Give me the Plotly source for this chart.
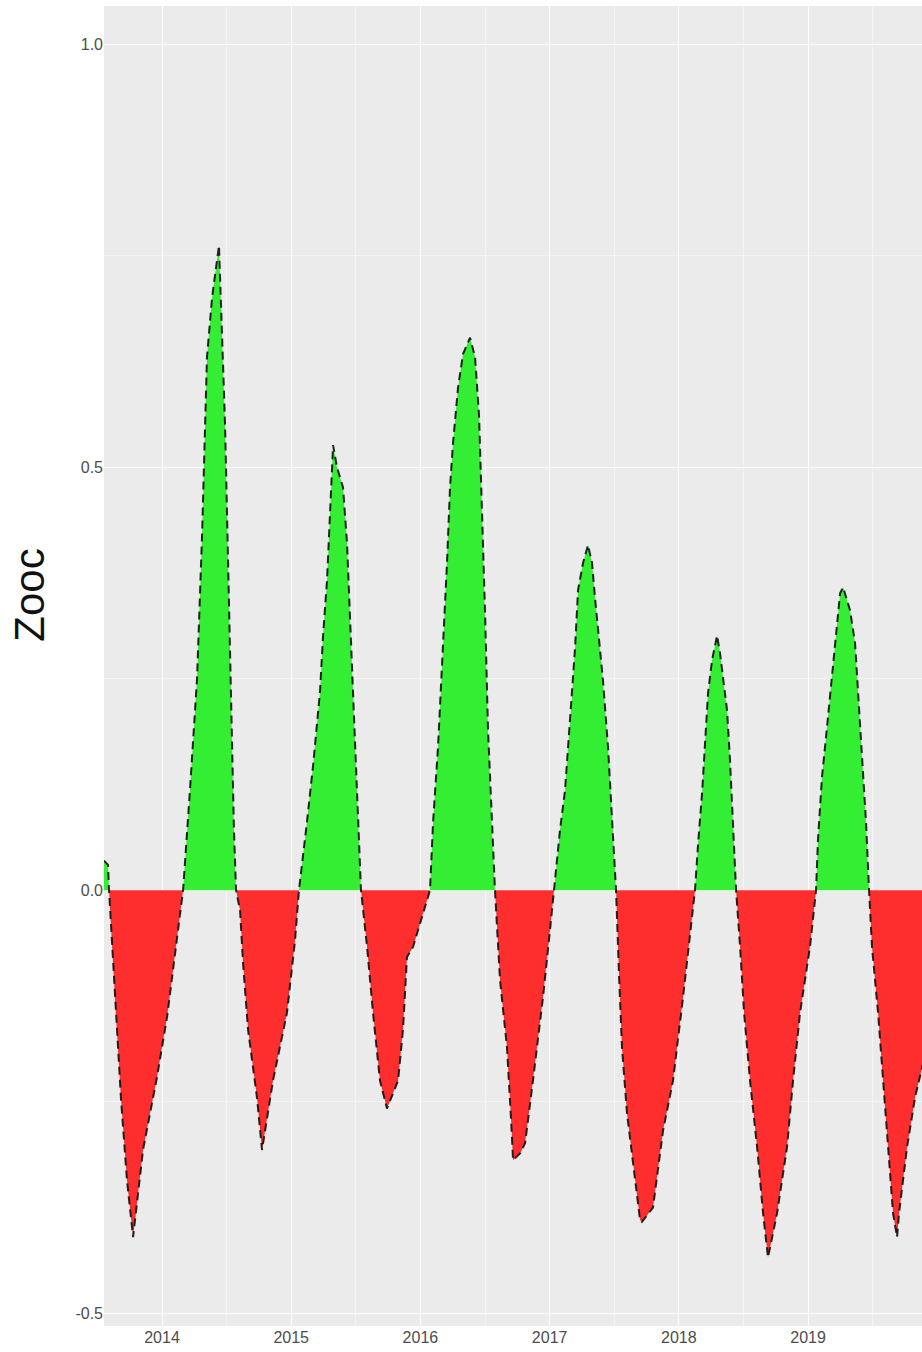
import plotly.graph_objects as go

# time in decimal years, Zooc anomaly values
years = [
    2013.551, 2013.582, 2013.590, 2013.636, 2013.683, 2013.729, 2013.776, 2013.853, 2013.961, 2014.039, 2014.124, 2014.163,
    2014.217, 2014.271, 2014.310, 2014.348, 2014.387, 2014.441, 2014.488, 2014.526, 2014.557, 2014.573,
    2014.604, 2014.627, 2014.666, 2014.735, 2014.774, 2014.859, 2014.967, 2015.029, 2015.060,
    2015.122, 2015.169, 2015.223, 2015.246, 2015.277, 2015.300, 2015.324, 2015.354, 2015.401, 2015.432,
    2015.455, 2015.478, 2015.502, 2015.525, 2015.540,
    2015.587, 2015.633, 2015.687, 2015.741, 2015.827, 2015.865, 2015.896, 2015.943, 2016.074,
    2016.098, 2016.136, 2016.175, 2016.206, 2016.229, 2016.252, 2016.291, 2016.330, 2016.384, 2016.423,
    2016.454, 2016.477, 2016.500, 2016.523, 2016.554, 2016.577,
    2016.616, 2016.670, 2016.701, 2016.717, 2016.771, 2016.810, 2016.871, 2016.949, 2017.003, 2017.034,
    2017.080, 2017.119, 2017.142, 2017.173, 2017.197, 2017.220, 2017.259, 2017.297, 2017.328, 2017.351,
    2017.375, 2017.413, 2017.452, 2017.483, 2017.498, 2017.514,
    2017.537, 2017.560, 2017.599, 2017.646, 2017.700, 2017.715, 2017.800, 2017.878, 2017.955, 2018.033,
    2018.102, 2018.125,
    2018.149, 2018.180, 2018.203, 2018.226, 2018.257, 2018.296, 2018.319, 2018.342, 2018.373, 2018.396,
    2018.420, 2018.443,
    2018.474, 2018.505, 2018.551, 2018.606, 2018.652, 2018.690, 2018.760, 2018.837, 2018.884, 2018.938,
    2019.015, 2019.062,
    2019.077, 2019.108, 2019.147, 2019.186, 2019.224, 2019.248, 2019.271, 2019.325, 2019.364, 2019.387,
    2019.418, 2019.449, 2019.472,
    2019.495, 2019.542, 2019.580, 2019.619, 2019.658, 2019.689, 2019.704, 2019.766, 2019.828, 2019.882,
    2019.944,
]
zooc = [
    0.035, 0.030, 0.000, -0.130, -0.248, -0.343, -0.410, -0.307, -0.221, -0.150, -0.050, 0.000,
    0.120, 0.250, 0.420, 0.630, 0.700, 0.762, 0.550, 0.270, 0.070, 0.000,
    -0.024, -0.086, -0.165, -0.245, -0.307, -0.225, -0.145, -0.060, 0.000,
    0.081, 0.147, 0.235, 0.300, 0.366, 0.454, 0.526, 0.500, 0.476, 0.410,
    0.323, 0.235, 0.150, 0.050, 0.000,
    -0.067, -0.145, -0.225, -0.258, -0.225, -0.165, -0.079, -0.067, 0.000,
    0.081, 0.169, 0.287, 0.388, 0.476, 0.528, 0.594, 0.634, 0.653, 0.630,
    0.560, 0.450, 0.330, 0.190, 0.070, 0.000,
    -0.106, -0.186, -0.270, -0.319, -0.311, -0.299, -0.225, -0.126, -0.047, 0.000,
    0.071, 0.118, 0.169, 0.228, 0.287, 0.355, 0.387, 0.408, 0.387, 0.346,
    0.307, 0.248, 0.169, 0.091, 0.040, 0.000,
    -0.100, -0.186, -0.264, -0.323, -0.390, -0.392, -0.375, -0.284, -0.225, -0.126,
    -0.027, 0.000,
    0.055, 0.115, 0.174, 0.233, 0.272, 0.301, 0.280, 0.252, 0.213, 0.154,
    0.074, 0.000,
    -0.067, -0.145, -0.225, -0.304, -0.382, -0.434, -0.382, -0.304, -0.225, -0.145,
    -0.067, 0.000,
    0.060, 0.134, 0.193, 0.252, 0.311, 0.351, 0.358, 0.331, 0.292, 0.233,
    0.154, 0.080, 0.000,
    -0.067, -0.145, -0.225, -0.304, -0.382, -0.410, -0.382, -0.304, -0.245, -0.210,
    -0.170,
]

year_ticks = [2014, 2015, 2016, 2017, 2018, 2019]
year_labels = ["2014", "2015", "2016", "2017", "2018", "2019"]
y_ticks = [-0.5, 0.0, 0.5, 1.0]
y_labels = ["-0.5", "0.0", "0.5", "1.0"]

pos = [max(v, 0.0) for v in zooc]
neg = [min(v, 0.0) for v in zooc]

fig = go.Figure()
fig.add_trace(go.Scatter(x=years, y=neg, mode="lines", fill="tozeroy",
                         fillcolor="#FF2E2E", line=dict(width=0, color="#FF2E2E"),
                         hoverinfo="skip", showlegend=False))
fig.add_trace(go.Scatter(x=years, y=pos, mode="lines", fill="tozeroy",
                         fillcolor="#33EE33", line=dict(width=0, color="#33EE33"),
                         hoverinfo="skip", showlegend=False))
fig.add_trace(go.Scatter(x=years, y=zooc, mode="lines",
                         line=dict(color="rgba(15,15,15,0.9)", width=2, dash="8px,5px"),
                         showlegend=False))

fig.update_layout(
    width=922, height=1352,
    margin=dict(l=104, r=0, t=6, b=26),
    paper_bgcolor="white",
    plot_bgcolor="#EBEBEB",
    font=dict(family="Liberation Sans, Arial, sans-serif"),
    xaxis=dict(range=[2013.551, 2019.882], tickvals=year_ticks, ticktext=year_labels,
               showgrid=True, gridcolor="white", gridwidth=1.4, zeroline=False,
               ticks="", tickfont=dict(size=16, color="#4D4D4D"),
               minor=dict(dtick=0.5, tick0=2013.5, showgrid=True, gridcolor="#F5F5F5", gridwidth=0.7),
               showline=False),
    yaxis=dict(range=[-0.515, 1.045], tickvals=y_ticks, ticktext=y_labels,
               showgrid=True, gridcolor="white", gridwidth=1.4, zeroline=False,
               ticks="", tickfont=dict(size=16, color="#4D4D4D"),
               minor=dict(dtick=0.25, tick0=0, showgrid=True, gridcolor="#F5F5F5", gridwidth=0.7),
               showline=False),
    annotations=[dict(text="Zooc", xref="paper", yref="paper",
                      x=-0.0905, y=0.554, xanchor="center", yanchor="middle",
                      textangle=-90, showarrow=False,
                      font=dict(size=42, color="#111111", family="Liberation Sans, Arial, sans-serif"))],
)

fig.write_html("out.html", config={"displayModeBar": False},
               post_script="document.body.style.margin='0';document.body.style.overflow='hidden';")
